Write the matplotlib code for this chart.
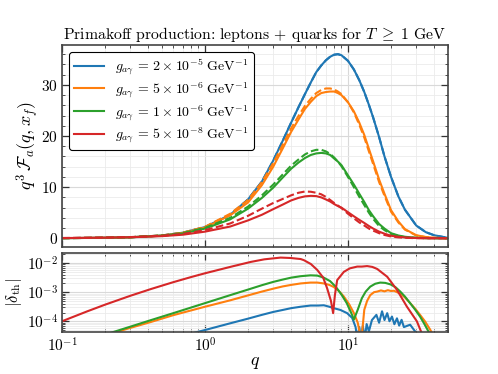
import matplotlib
matplotlib.use("Agg")
import matplotlib.pyplot as plt
from matplotlib.ticker import AutoMinorLocator, LogLocator, NullFormatter

plt.rcParams["font.family"] = "serif"
plt.rcParams["font.serif"] = ["cmr10", "DejaVu Serif"]
plt.rcParams["mathtext.fontset"] = "cm"
plt.rcParams["axes.formatter.use_mathtext"] = True
plt.rcParams["axes.unicode_minus"] = False

# ---- top panel: q^3 F_a(q, x_f) ----
q_top = [0.1, 0.2, 0.3, 0.5, 0.7, 1.0, 1.5, 2.0, 2.5, 3.0, 3.5, 4.0, 4.5, 5.0, 5.5,
         6.0, 6.5, 7.0, 7.5, 8.0, 8.5, 9.0, 10, 11, 12, 13, 14, 15, 16.5, 18, 20,
         22.5, 25, 30, 35, 40, 50]

blue_solid = [0.03, 0.1, 0.2, 0.55, 1.1, 2.2, 4.6, 7.6, 11.1, 15.2, 19.1, 22.6, 25.6,
              28.2, 30.5, 32.5, 33.8, 34.8, 35.5, 35.9, 36.0, 35.8, 34.7, 33.0, 30.9,
              28.6, 26.1, 23.6, 19.8, 16.0, 12.0, 8.2, 5.6, 2.5, 1.2, 0.6, 0.08]
blue_dashed = blue_solid

orange_solid = [0.03, 0.1, 0.2, 0.53, 1.05, 2.1, 4.5, 7.0, 10.4, 14.0, 17.6, 20.8, 23.2,
                25.3, 26.7, 27.8, 28.4, 28.6, 28.7, 28.7, 28.4, 28.0, 26.6, 24.8, 22.6,
                20.2, 17.5, 15.0, 11.5, 8.7, 5.5, 3.3, 1.8, 0.6, 0.25, 0.1, 0.02]
orange_dashed = [0.03, 0.1, 0.21, 0.56, 1.1, 2.25, 4.8, 7.5, 11.0, 14.7, 18.3, 21.5, 23.9,
                 25.9, 27.3, 28.4, 29.0, 29.3, 29.3, 29.1, 28.7, 28.2, 26.6, 24.6, 22.2,
                 19.7, 17.0, 14.5, 11.0, 8.3, 5.2, 3.1, 1.7, 0.55, 0.22, 0.09, 0.02]

green_solid = [0.03, 0.1, 0.2, 0.5, 0.95, 1.9, 3.7, 5.8, 7.9, 9.9, 11.9, 13.6, 14.8,
               15.7, 16.3, 16.6, 16.7, 16.6, 16.3, 15.6, 15.0, 14.3, 12.3, 10.5, 8.7,
               7.1, 5.5, 4.3, 2.8, 1.9, 1.0, 0.55, 0.3, 0.1, 0.04, 0.02, 0.0]
green_dashed = [0.03, 0.1, 0.21, 0.53, 1.02, 2.05, 4.0, 6.2, 8.4, 10.5, 12.5, 14.2, 15.4,
                16.4, 17.0, 17.3, 17.3, 17.0, 16.5, 15.8, 15.0, 14.1, 12.0, 10.0, 8.1,
                6.5, 5.0, 3.8, 2.4, 1.6, 0.85, 0.45, 0.22, 0.07, 0.03, 0.01, 0.0]

red_solid = [0.05, 0.12, 0.2, 0.42, 0.7, 1.3, 2.3, 3.5, 4.6, 5.7, 6.6, 7.4, 7.9, 8.2,
             8.3, 8.25, 8.0, 7.6, 7.2, 6.7, 6.3, 6.0, 5.1, 4.3, 3.6, 3.0, 2.4, 1.9,
             1.3, 0.9, 0.5, 0.3, 0.17, 0.06, 0.02, 0.01, 0.0]
red_dashed = [0.06, 0.14, 0.24, 0.5, 0.85, 1.6, 2.9, 4.4, 5.8, 6.9, 7.7, 8.4, 8.9, 9.15,
              9.1, 8.9, 8.6, 8.1, 7.5, 6.9, 6.4, 5.9, 4.8, 3.9, 3.1, 2.5, 1.9, 1.5,
              1.0, 0.65, 0.35, 0.18, 0.1, 0.03, 0.01, 0.0, 0.0]

# ---- bottom panel: |delta_th| ----
q_red_d = [0.1, 0.15, 0.2, 0.3, 0.42, 0.6, 0.8, 1.0, 1.5, 2.09, 2.6, 3.38, 3.97, 4.67,
           4.92, 5.5, 6.1, 6.7, 7.15, 7.6, 7.87, 8.1, 8.4, 9.35, 10.3, 11.6, 12.5,
           13.6, 14.8, 16, 18.8, 22, 25.8, 30.3, 34]
red_d = [1.0e-4, 2.19e-4, 3.72e-4, 7.5e-4, 1.29e-3, 2.21e-3, 3.32e-3, 4.47e-3, 7.4e-3,
         1.1e-2, 1.35e-2, 1.55e-2, 1.5e-2, 1.38e-2, 1.26e-2, 9.3e-3, 5.8e-3, 3.2e-3,
         1.35e-3, 5e-4, 1.9e-4, 8e-4, 2.6e-3, 5.0e-3, 6.6e-3, 7.6e-3, 7.6e-3, 7.9e-3,
         7.4e-3, 6.3e-3, 3.4e-3, 1.2e-3, 3.2e-4, 1.0e-4, 2.5e-5]

q_green_d = [0.2, 0.3, 0.42, 0.6, 1.0, 1.5, 2.0, 2.5, 3.0, 3.5, 4.0, 4.67, 5.47, 6.1,
             6.77, 7.5, 8.2, 9.0, 9.8, 10.5, 11.0, 11.7, 12.5, 13.3, 14.3, 15.5, 16.8,
             18.2, 19.8, 21.5, 23.2, 25, 27.2, 29.5, 31.9, 34, 36.5, 38]
green_d = [3.47e-5, 6.5e-5, 1.1e-4, 1.9e-4, 4.2e-4, 7.9e-4, 1.23e-3, 1.74e-3, 2.26e-3,
           2.72e-3, 3.16e-3, 3.55e-3, 3.8e-3, 3.72e-3, 3.16e-3, 2.4e-3, 1.55e-3,
           8.3e-4, 4.2e-4, 2.0e-4, 1.15e-4, 2.5e-4, 6.2e-4, 1.05e-3, 1.55e-3, 1.95e-3,
           2.14e-3, 2.09e-3, 1.86e-3, 1.48e-3, 1.05e-3, 7.1e-4, 4.2e-4, 2.5e-4,
           1.45e-4, 8.5e-5, 4.5e-5, 2.8e-5]

q_orange_d = [0.2, 0.3, 0.42, 0.6, 1.0, 1.5, 2.0, 2.5, 3.0, 3.5, 4.0, 4.67, 5.47, 6.1,
              6.77, 7.4, 7.95, 8.6, 9.35, 10.2, 11.0, 11.7, 12.2, 12.4, 12.6, 13.0,
              13.6, 14.3, 15.2, 16.0, 17.0, 18.0, 19.0, 20.0, 21.0, 22.0, 23.2, 25,
              27.2, 29.5, 31.9, 34.5, 37.6, 40]
orange_d = [3.24e-5, 5.9e-5, 9.5e-5, 1.62e-4, 3.16e-4, 5.25e-4, 7.76e-4, 1.05e-3,
            1.32e-3, 1.58e-3, 1.78e-3, 2.0e-3, 2.14e-3, 2.14e-3, 2.0e-3, 1.78e-3,
            1.51e-3, 1.12e-3, 7.1e-4, 3.8e-4, 1.9e-4, 8.9e-5, 3.2e-5, 2.0e-5, 5.0e-5,
            2.5e-4, 5.0e-4, 7.9e-4, 1.0e-3, 1.05e-3, 1.15e-3, 1.07e-3, 1.17e-3,
            1.1e-3, 1.12e-3, 1.0e-3, 9.1e-4, 6.6e-4, 4.2e-4, 2.7e-4, 1.66e-4, 1.0e-4,
            5.1e-5, 2.8e-5]

q_blue_d = [0.84, 1.0, 1.5, 2.0, 2.5, 3.0, 3.5, 4.0, 4.67, 5.47, 6.2, 6.77, 7.4, 7.95,
            8.85, 9.86, 10.7, 11.3, 11.6, 12.0, 12.3, 12.7, 13.1, 13.5, 14.0, 14.7,
            15.8, 16.5, 17.3, 18.0, 18.8, 19.5, 20.3, 21.1, 22.0, 22.8, 23.7, 24.6,
            27.2, 31, 33]
blue_d = [4.0e-5, 5.0e-5, 8.5e-5, 1.23e-4, 1.66e-4, 2.09e-4, 2.45e-4, 2.82e-4,
          3.16e-4, 3.47e-4, 3.47e-4, 3.55e-4, 3.16e-4, 2.82e-4, 2.45e-4, 1.9e-4,
          1.3e-4, 6.3e-5, 2.5e-5, 6.3e-5, 2.5e-5, 7e-5, 2.5e-5, 8e-5, 4.5e-5,
          1.1e-4, 1.66e-4, 8.9e-5, 2.2e-4, 1.1e-4, 1.9e-4, 1.0e-4, 1.45e-4, 7.9e-5,
          1.26e-4, 7.1e-5, 1.12e-4, 6.3e-5, 7.6e-5, 3.2e-5, 1.6e-5]

labels = [r"$g_{a\gamma} \,=\, 2 \times 10^{-5}\ \mathrm{GeV}^{-1}$",
          r"$g_{a\gamma} \,=\, 5 \times 10^{-6}\ \mathrm{GeV}^{-1}$",
          r"$g_{a\gamma} \,=\, 1 \times 10^{-6}\ \mathrm{GeV}^{-1}$",
          r"$g_{a\gamma} \,=\, 5 \times 10^{-8}\ \mathrm{GeV}^{-1}$"]
colors = ["C0", "C1", "C2", "C3"]

fig = plt.figure(figsize=(4.98, 3.74), dpi=100)
ax1 = fig.add_axes([0.1245, 0.3396, 0.775, 0.5401])
ax2 = fig.add_axes([0.1245, 0.1115, 0.775, 0.2128], sharex=ax1)

solids = [blue_solid, orange_solid, green_solid, red_solid]
dashed = [blue_dashed, orange_dashed, green_dashed, red_dashed]
for ys, yd, c, lab in zip(solids, dashed, colors, labels):
    ax1.plot(q_top, ys, color=c, lw=1.5, label=lab)
    ax1.plot(q_top, yd, color=c, lw=1.5, ls="--")

for qq, dd, c in zip([q_blue_d, q_orange_d, q_green_d, q_red_d],
                     [blue_d, orange_d, green_d, red_d], colors):
    ax2.plot(qq, dd, color=c, lw=1.5)

ax1.set_xscale("log")
ax1.set_xlim(0.1, 50)
ax1.set_ylim(-1.7, 37.8)
ax1.yaxis.set_minor_locator(AutoMinorLocator(5))
ax1.set_ylabel(r"$q^3\,\mathcal{F}_a(q, x_f)$", fontsize=13, labelpad=0)
ax1.set_title(r"Primakoff production: leptons + quarks for $T \;\geq\; 1$ GeV",
              fontsize=11.3, pad=4)
ax1.tick_params(labelbottom=False)

ax2.set_yscale("log")
ax2.set_ylim(4.17e-5, 2.28e-2)
ax2.yaxis.set_major_locator(LogLocator(base=10, numticks=10))
ax2.yaxis.set_minor_locator(LogLocator(base=10, subs=range(2, 10), numticks=10))
ax2.yaxis.set_minor_formatter(NullFormatter())
ax2.set_ylabel(r"$|\delta_{\rm th}|$", fontsize=12, labelpad=2)
ax2.set_xlabel(r"$q$", fontsize=13, labelpad=0)

for ax in (ax1, ax2):
    ax.grid(True, which="major", color="#d9d9d9", lw=0.8)
    ax.grid(True, which="minor", color="#ebebeb", lw=0.6)
    ax.set_axisbelow(True)
    ax.tick_params(which="both", direction="in", top=True, right=True,
                   labelsize=11, color="#333333", pad=3)
    ax.tick_params(which="major", length=5, width=0.9)
    ax.tick_params(which="minor", length=2.5, width=0.6)
    for sp in ax.spines.values():
        sp.set_color("#444444")
        sp.set_linewidth(1.2)

leg = ax1.legend(loc="upper left", fontsize=10, framealpha=1, fancybox=True,
                 edgecolor="black", labelspacing=0.2, borderpad=0.35,
                 handlelength=2.2)
leg.get_frame().set_linewidth(0.8)

fig.savefig("out.png", dpi=100)
